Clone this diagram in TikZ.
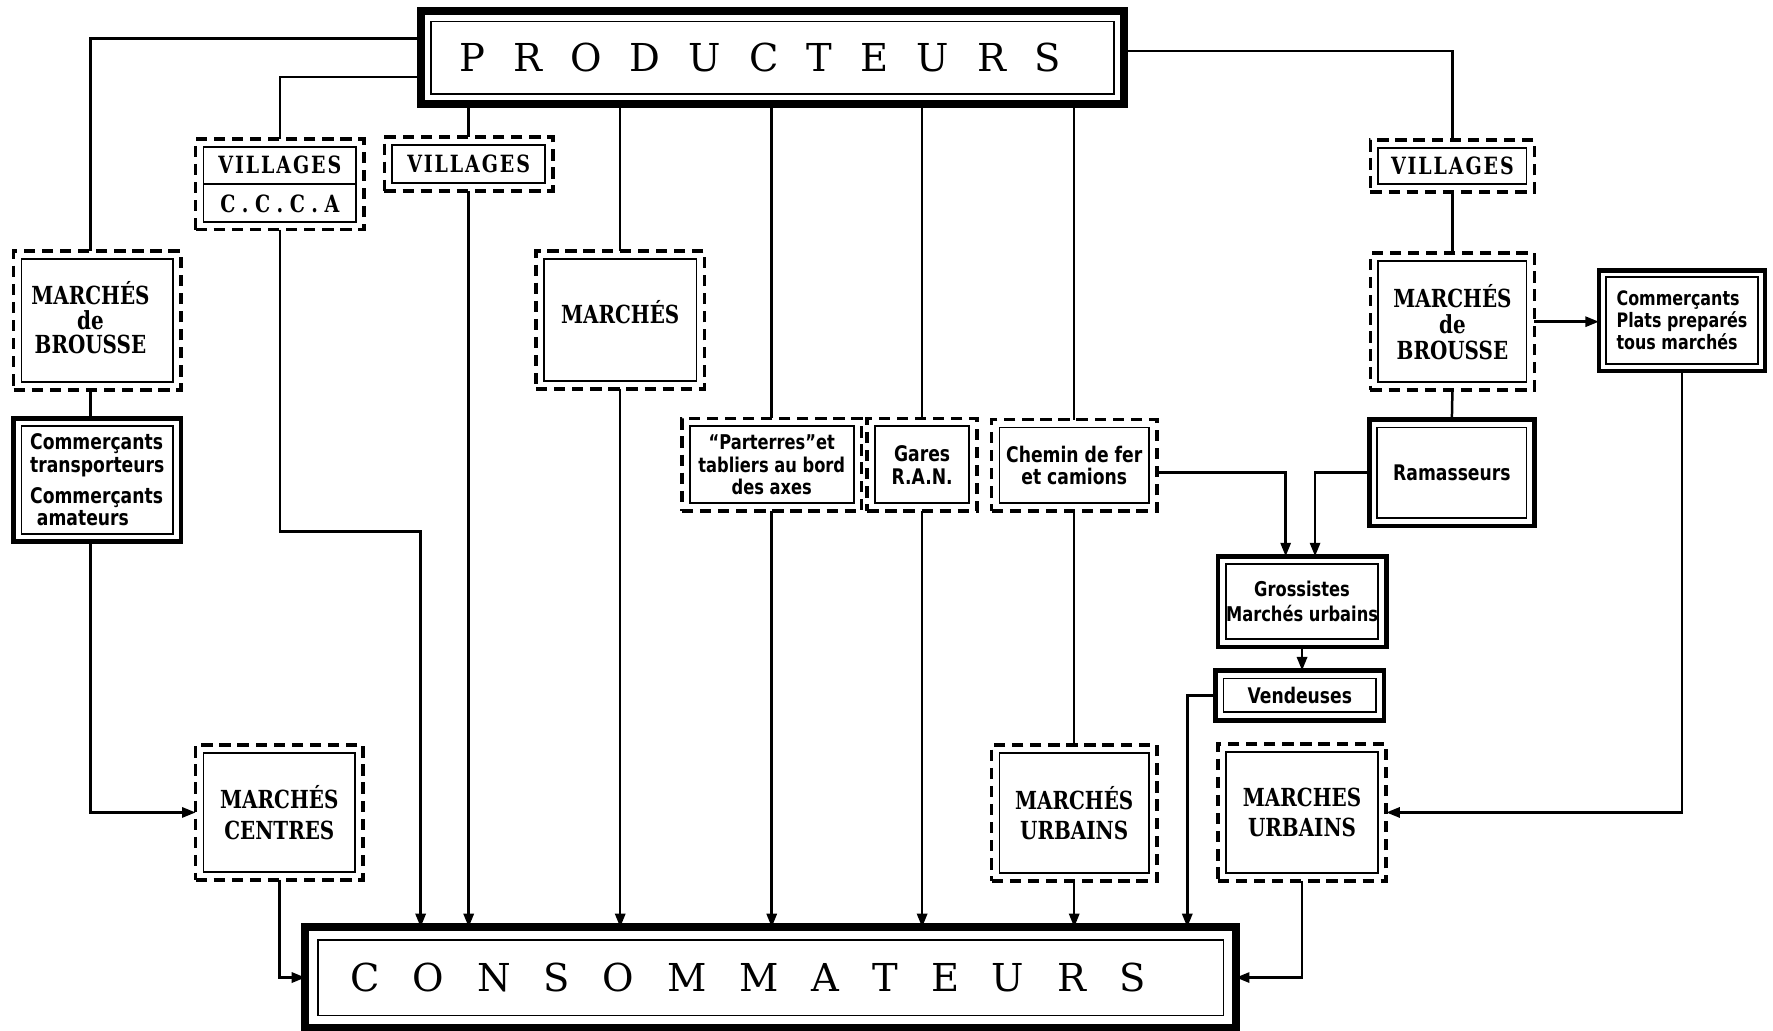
\documentclass[tikz,border=0pt]{standalone}
\usepackage{fontspec}
\setmainfont{DejaVu Serif}
\newfontfamily\titlef{DejaVu Serif}
\newfontfamily\capf[FakeStretch=0.8]{DejaVu Serif}
\newfontfamily\capsp[FakeStretch=0.8,LetterSpace=8]{DejaVu Serif}
\newfontfamily\handf[FakeStretch=0.8]{DejaVu Sans}
\usetikzlibrary{arrows.meta,calc}

\tikzset{
  sz/.style 2 args={minimum width=#1*0.5pt, minimum height=#2*0.5pt},
  base/.style={rectangle, outer sep=0pt, inner sep=0pt, align=center,
     font=\capf\bfseries\fontsize{11}{10.5}\selectfont},
  dbox/.style={base, draw, line width=1.6pt, dash pattern=on 5pt off 3pt},
  sbox/.style={base, draw, line width=2pt},
  tbox/.style={base, draw, line width=3.6pt},
  hand/.style={font=\handf\bfseries\fontsize{9.5}{10}\selectfont},
  ln/.style={line width=1.1pt},
  arr/.style={ln, -{Triangle[length=6pt,width=4.5pt]}},
  inl/.style={line width=0.8pt},
}

\begin{document}
\begin{tikzpicture}[x=0.5pt,y=-0.5pt]
\useasboundingbox (0,0) rectangle (1568,911);

% main boxes
\node[tbox, sz={622}{82}, font=\titlef\fontsize{17}{17}\selectfont] (prod) at (683,51)
  {\makebox[266pt][s]{P\hfill R\hfill O\hfill D\hfill U\hfill C\hfill T\hfill E\hfill U\hfill R\hfill S}\hspace{11pt}};
\node[tbox, sz={823}{89}, font=\titlef\fontsize{17}{17}\selectfont] (cons) at (681.5,864.5)
  {\makebox[351.5pt][s]{C\hfill O\hfill N\hfill S\hfill O\hfill M\hfill M\hfill A\hfill T\hfill E\hfill U\hfill R\hfill S}\hspace{20pt}};

% left column
\node[dbox, sz={148}{123}] (mdb1) at (86,283.5)
  {\def\arraystretch{0.82}\begin{tabular}{@{}c@{}}MARCHÉS\\de\\BROUSSE\end{tabular}\hspace{6pt}};
\node[sbox, sz={148}{109}, hand, align=left] (comtr) at (86,424.5)
  {Commerçants\\transporteurs\\[3.5pt]Commerçants\\\hspace*{3pt}amateurs};
\node[dbox, sz={148}{119}, font=\capf\bfseries\fontsize{11}{13.5}\selectfont] (mc) at (247,718.5) {MARCHÉS\\CENTRES};

% villages
\node[dbox, sz={149}{80}, font=\capsp\bfseries\fontsize{10.5}{17}\selectfont] (vil1) at (247.5,163)
  {VILLAGES\\\addfontfeature{LetterSpace=28}C.C.C.A};
\node[dbox, sz={149}{48}, font=\capsp\bfseries\fontsize{10.5}{12}\selectfont] (vil2) at (414.5,145) {VILLAGES};
\node[dbox, sz={149}{122}] (mar) at (548.5,283) {\raisebox{7pt}{MARCHÉS}};

% middle row
\node[dbox, sz={159}{82}, font=\handf\bfseries\fontsize{9}{10}\selectfont] (part) at (682.5,411)
  {“Parterres”et\\tabliers au bord\\des axes};
\node[dbox, sz={97}{82}, hand] (gares) at (815.5,411) {Gares\\R.A.N.};
\node[dbox, sz={146}{81}, hand] (chem) at (950,411.5) {Chemin de fer\\et camions};
\node[dbox, sz={146}{120}, font=\capf\bfseries\fontsize{11}{13.5}\selectfont] (mu1) at (950,719) {MARCHÉS\\URBAINS};

% right column
\node[dbox, sz={145}{46}, font=\capsp\bfseries\fontsize{10.5}{12}\selectfont] (vil3) at (1284.5,147) {VILLAGES};
\node[dbox, sz={145}{121}, font=\capf\bfseries\fontsize{11}{11.5}\selectfont] (mdb2) at (1284.5,284.5) {MARCHÉS\\de\\BROUSSE};
\node[sbox, sz={147}{89}, align=left, font=\handf\bfseries\fontsize{8.8}{9.8}\selectfont] (cpp) at (1487.5,283.5)
  {Commerçants\\Plats preparés\\tous marchés};
\node[sbox, sz={146}{94}, hand] (ram) at (1284,418) {Ramasseurs};
\node[sbox, sz={149}{80}, font=\handf\bfseries\fontsize{9}{11}\selectfont] (gros) at (1151.5,532) {Grossistes\\Marchés urbains};
\node[sbox, sz={149}{44}, hand] (vend) at (1149.5,615) {Vendeuses};
\node[dbox, sz={149}{121}, font=\capf\bfseries\fontsize{11}{13.5}\selectfont] (mu2) at (1151.5,718.5) {MARCHES\\URBAINS};

% inner frames
\foreach \n/\g in {prod/9,cons/11,mdb1/7,vil1/7,vil2/7,mar/7,comtr/7,mc/7,part/7,gares/7,chem/7,mu1/7,vil3/7,mdb2/7,cpp/6,ram/7,gros/7,vend/7,mu2/7}
  \draw[inl] ($(\n.north west)+(\g,\g)$) rectangle ($(\n.south east)+(-\g,-\g)$);
\draw[inl] ([xshift=3.5pt]vil1.west) -- ([xshift=-3.5pt]vil1.east);

% connectors from producteurs
\draw[ln] ([yshift=8.5pt]prod.west) -| ([xshift=-3pt]mdb1.north);
\draw[ln] ([yshift=-8.5pt]prod.west) -| (vil1.north);
\draw[ln] (prod.south -| vil2.north) -- (vil2.north);
\draw[ln] (prod.south -| mar.north) -- (mar.north);
\draw[ln] (prod.south -| part.north) -- (part.north);
\draw[ln] (prod.south -| gares.north) -- (gares.north);
\draw[ln] (prod.south -| chem.north) -- (chem.north);
\draw[ln] ([yshift=3pt]prod.east) -| (vil3.north);

% left side
\draw[ln] ([xshift=-3pt]mdb1.south) -- ([xshift=-3pt]comtr.north);
\draw[arr] ([xshift=-3pt]comtr.south) |- (mc.west);
\draw[arr] (mc.south) |- (cons.west);
\draw[arr] (vil1.south) |- (372,470) -- (372,0 |- cons.north);
\draw[arr] (vil2.south) -- (vil2.south |- cons.north);
\draw[arr] (mar.south) -- (mar.south |- cons.north);
\draw[arr] (part.south) -- (part.south |- cons.north);
\draw[arr] (gares.south) -- (gares.south |- cons.north);
\draw[ln] (chem.south) -- (mu1.north);
\draw[arr] (mu1.south) -- (mu1.south |- cons.north);

% right side
\draw[ln] (vil3.south) -- (mdb2.north);
\draw[ln] (mdb2.south) -- (ram.north);
\draw[arr] (mdb2.east) -- (mdb2.east -| cpp.west);
\draw[arr] (cpp.south) |- (mu2.east);
\draw[arr] ([yshift=-3.25pt]chem.east) -| ([xshift=-7.25pt]gros.north);
\draw[arr] (ram.west) -| ([xshift=5.75pt]gros.north);
\draw[arr] (gros.south) -- (gros.south |- vend.north);
\draw[arr] (vend.west) -| (1050,0 |- cons.north);
\draw[arr] (mu2.south) |- (cons.east);
\end{tikzpicture}
\end{document}
